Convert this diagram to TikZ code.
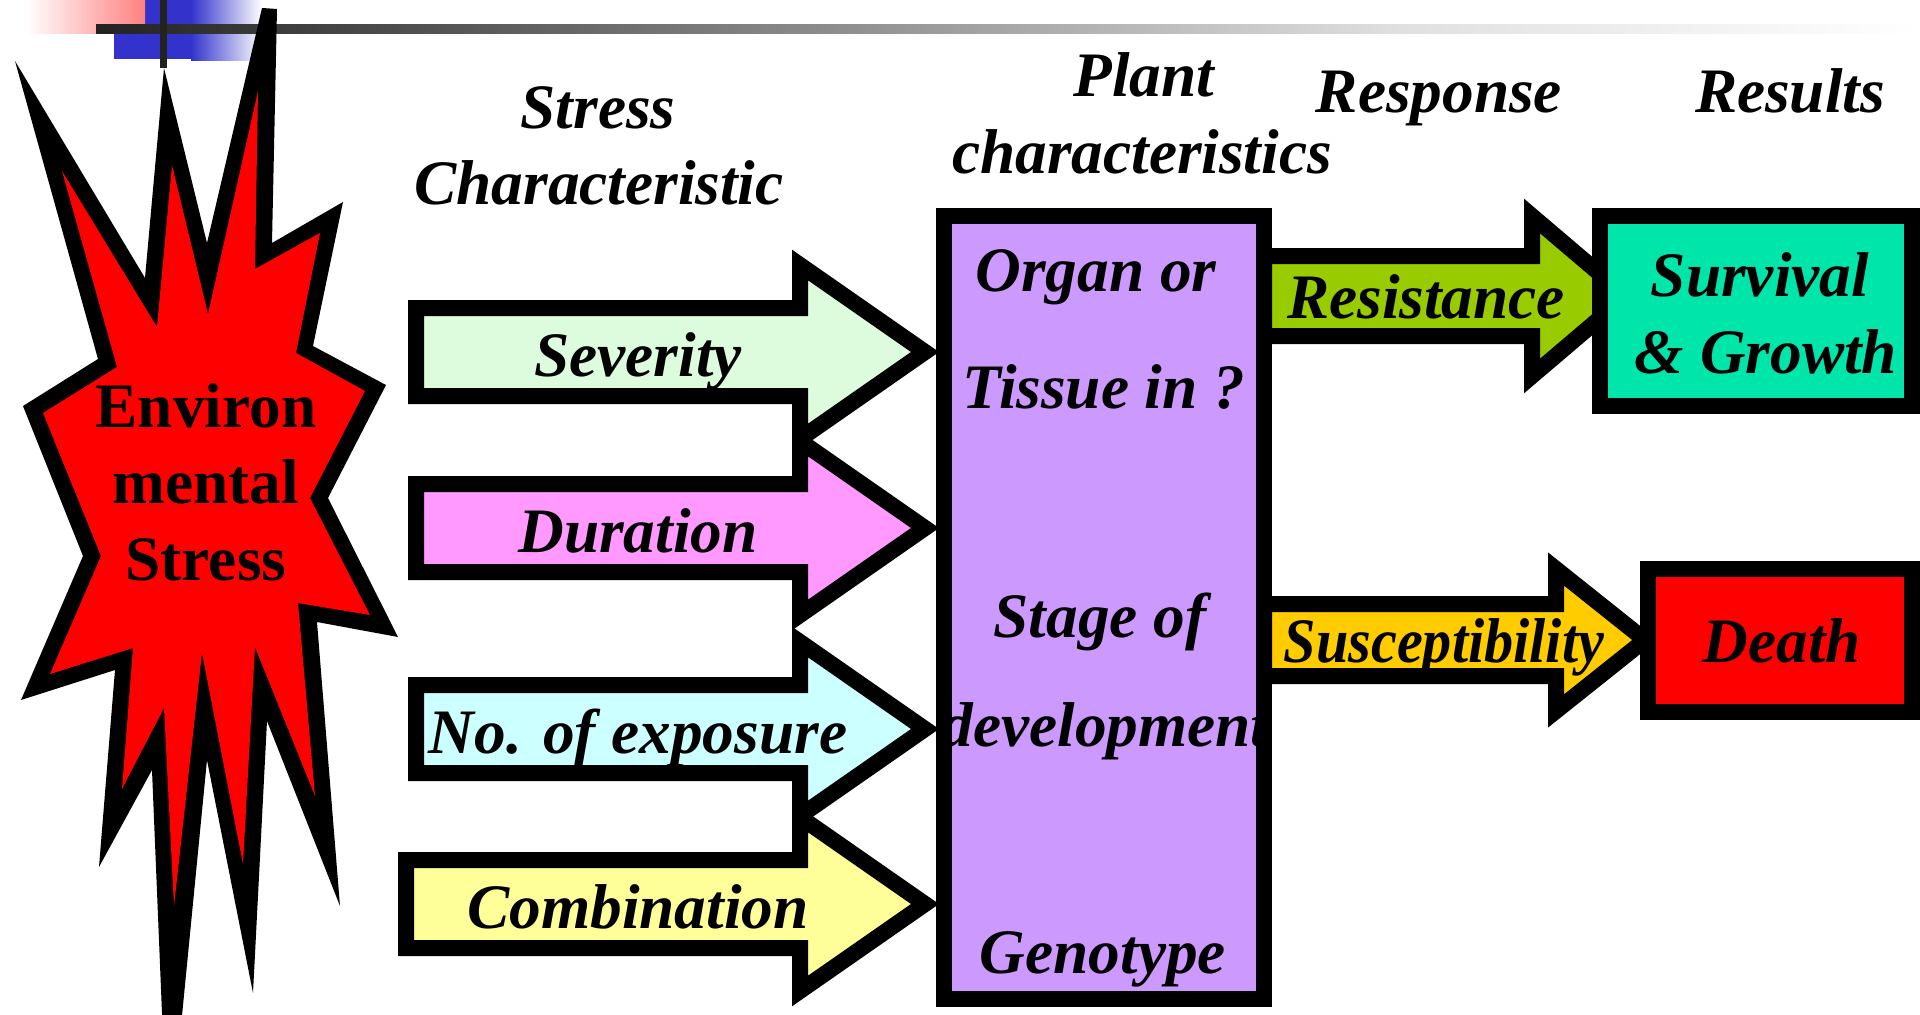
\documentclass[tikz,border=0pt]{standalone}
\usepackage{fontspec}
\setmainfont{Liberation Serif}
\usepackage{tikz}

\definecolor{sevcol}{RGB}{221,252,221}
\definecolor{durcol}{RGB}{255,153,255}
\definecolor{expcol}{RGB}{204,255,255}
\definecolor{comcol}{RGB}{255,255,153}
\definecolor{plantcol}{RGB}{204,153,255}
\definecolor{rescol}{RGB}{153,204,0}
\definecolor{suscol}{RGB}{255,204,0}
\definecolor{survcol}{RGB}{0,229,170}
\definecolor{deathcol}{RGB}{255,0,0}
\definecolor{decoblue}{RGB}{51,51,204}
\definecolor{decored}{RGB}{255,128,128}
\definecolor{linedark}{RGB}{34,34,34}
\definecolor{linelight}{RGB}{224,224,224}

\tikzset{
  blk/.style={draw=black, line width=4.55pt, line join=miter, miter limit=10},
  lab/.style={font=\fontsize{18}{22}\selectfont\bfseries\itshape, inner sep=0pt, anchor=base},
  starlab/.style={font=\fontsize{18}{22}\selectfont\bfseries, inner sep=0pt, anchor=base}
}

\begin{document}
\begin{tikzpicture}[x=0.01cm, y=-0.01cm]
\useasboundingbox (0,0) rectangle (1920,1015);

%title bar
\fill[decoblue] (114,0) rectangle (191,59);
\shade[left color=decoblue, right color=white] (191,0) rectangle (262,60);
\shade[left color=white, right color=decored] (26,0) rectangle (145,33);
\shade[left color=linedark, right color=linelight] (96,24) rectangle (1400,33);
\shade[left color=linelight, right color=white] (1400,24) rectangle (1920,33);
\fill[linedark] (160,0) rectangle (167,68);

%burst
\fill[black] (15,61) -- (145,278) -- (164,68) -- (207,243) -- (262,8) -- (277,9) -- (272,243)
  -- (343,202) -- (313,346) -- (386,385) -- (328,498) -- (398,637) -- (317,622) -- (340,906)
  -- (267,721) -- (253,993) -- (207,760) -- (168,1159) -- (152,770) -- (99,867) -- (115,670)
  -- (21,700) -- (83,556) -- (23,406) -- (98,359) -- cycle;
\fill[deathcol] (62,171) -- (157,327) -- (172,165) -- (208,314) -- (258,91) -- (255,269)
  -- (320,233) -- (296,353) -- (365,391) -- (310,498) -- (370,615) -- (298,603) -- (315,796)
  -- (255,647) -- (243,864) -- (202,653) -- (174,906) -- (164,708) -- (122,789) -- (133,648)
  -- (50,674) -- (101,556) -- (43,413) -- (117,367) -- cycle;
\node[starlab] (env1) at (206,427) {Environ};
\node[starlab] (env2) at (206,503) {mental};
\node[starlab] (env3) at (206,580) {Stress};

%headings
\node[lab] (hstress) at (598,128) {Stress};
\node[lab] (hchar) at (599,204) {Characteristic};
\node[lab] (hplant) at (1144,97) {Plant};
\node[lab] (hpchar) at (1142,173) {characteristics};
\node[lab] (hresp) at (1439,113) {Response};
\node[lab] (hres) at (1790,113) {Results};

%stress characteristics
  \foreach \cy/\tx/\col/\nm/\txt in {352/416/sevcol/sev/Severity, 528/416/durcol/dur/Duration, 729/416/expcol/expo/No. of exposure, 904/406/comcol/comb/Combination}
  {
	\draw[blk, fill=\col] (\tx,\cy-44) -- (800,\cy-44) -- (800,\cy-87) -- (925,\cy)
	  -- (800,\cy+87) -- (800,\cy+44) -- (\tx,\cy+44) -- cycle;
	\node[lab] (\nm) at (638,\cy+24) {\txt};
  }

%response arrows
\draw[blk, fill=rescol] (1264,256) -- (1532,256) -- (1532,216) -- (1626,296) -- (1532,376)
  -- (1532,336) -- (1264,336) -- cycle;
\draw[blk, fill=suscol] (1264,604) -- (1556,604) -- (1556,569) -- (1645,640) -- (1556,711)
  -- (1556,676) -- (1264,676) -- cycle;
\node[lab] (resist) at (1426,318) {Resistance};
\node[lab] (suscep) at (1444,662) {\scalebox{0.92}[1]{Susceptibility}};

%results
\draw[blk, fill=survcol] (1600,216) rectangle (1912,406);
\draw[blk, fill=deathcol] (1648,569) rectangle (1912,712);
\node[lab] (surv) at (1760,296) {Survival};
\node[lab] (grow) at (1766,373) {\& Growth};
\node[lab] (death) at (1782,662) {Death};

%plant characteristics
\draw[blk, fill=plantcol] (944,216) rectangle (1264,999);
\node[lab] (organ) at (1096,291) {Organ or};
\node[lab] (tissue) at (1104,408) {Tissue in ?};
\node[lab] (stage) at (1100,637) {Stage of};
\node[lab] (devel) at (1105,746) {development};
\node[lab] (geno) at (1103,973) {Genotype};
\end{tikzpicture}
\end{document}
